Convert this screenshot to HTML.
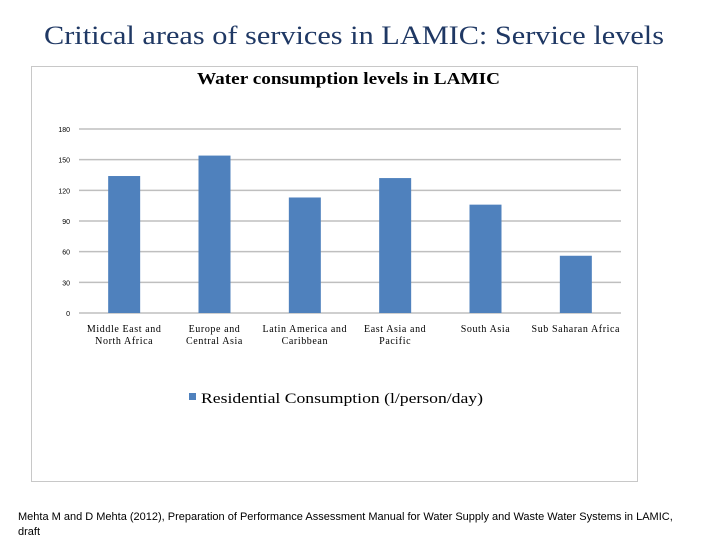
<!DOCTYPE html>
<html><head><meta charset="utf-8"><style>
body{margin:0;width:720px;height:540px;background:#fff;overflow:hidden;font-family:"Liberation Serif",serif}
</style></head><body>
<div style="position:absolute;left:31px;top:66px;width:605px;height:414px;border:1px solid #c8c8c8"></div>
<svg width="720" height="540" style="position:absolute;left:0;top:0">
<text x="44" y="44" textLength="620" lengthAdjust="spacingAndGlyphs" font-size="26" fill="#1f3864" font-family="Liberation Serif">Critical areas of services in LAMIC: Service levels</text>
<text x="197" y="84" textLength="303" lengthAdjust="spacingAndGlyphs" font-size="17" font-weight="bold" font-family="Liberation Serif">Water consumption levels in LAMIC</text>
<g id="g"></g>
<rect x="189" y="393" width="7" height="7" fill="#4f81bd"/>
<text x="201" y="403" textLength="282" lengthAdjust="spacingAndGlyphs" font-size="15" font-family="Liberation Serif">Residential Consumption (l/person/day)</text>
</svg>
<div style="position:absolute;left:18px;top:510px;width:690px;font-size:11px;line-height:15px;font-family:'Liberation Sans',sans-serif">Mehta M and D Mehta (2012), Preparation of Performance Assessment Manual for Water Supply and Waste Water Systems in LAMIC, <br>draft</div>
<script>
const categories=[["Middle East and","North Africa"],["Europe and","Central Asia"],["Latin America and","Caribbean"],["East Asia and","Pacific"],["South Asia"],["Sub Saharan Africa"]];
const values=[134,154,113,132,106,56];
const ticks=[0,30,60,90,120,150,180];
const ns="http://www.w3.org/2000/svg",g=document.getElementById("g");
const x0=79,x1=621,y0=313,y1=129,maxV=180;
const y=v=>y0-(v/maxV)*(y0-y1);
const cw=(x1-x0)/categories.length;
const xc=i=>x0+cw*(i+0.5);
function el(t,a){const e=document.createElementNS(ns,t);for(const k in a)e.setAttribute(k,a[k]);g.appendChild(e);return e;}
ticks.forEach(t=>{
 const l=el("line",{x1:x0,x2:x1,y1:y(t),y2:y(t),stroke:"#bfbfbf","stroke-width":1.5});
 
 
 const tx=el("text",{x:70,y:y(t)+3,"text-anchor":"end","font-size":7,"font-family":"Liberation Sans"});
 tx.textContent=t;
 
 
});
values.forEach((v,i)=>{
 const r=el("rect",{x:xc(i)-16,y:y(v),width:32,height:y0-y(v),fill:"#4f81bd"});
 
 
 categories[i].forEach((s,j)=>{
  const t=el("text",{x:xc(i),y:332+j*12,"text-anchor":"middle","font-size":10,"letter-spacing":"0.6","font-family":"Liberation Serif"});
  t.textContent=s;
  
  
 });
});
</script>
</body></html>
